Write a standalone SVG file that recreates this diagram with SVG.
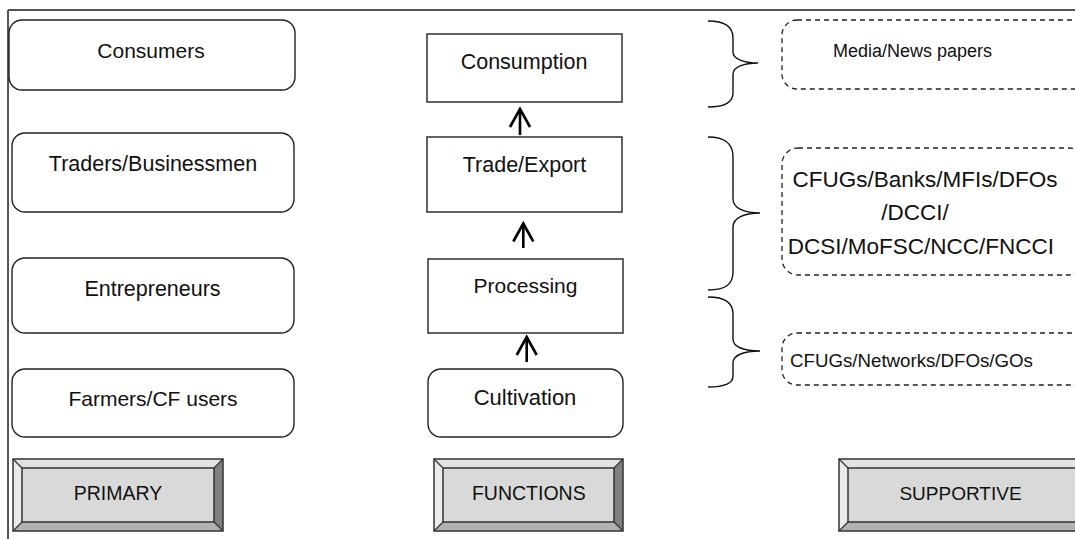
<svg xmlns="http://www.w3.org/2000/svg" width="1075" height="539" viewBox="0 0 1075 539">
  <style>
    .txt { font-family: "Liberation Sans", Arial, sans-serif; fill: #111; text-anchor: middle; }
    .box { fill: #fff; stroke: #222; stroke-width: 1.4; }
    .dash { fill: #fff; stroke: #222; stroke-width: 1.3; stroke-dasharray: 5 4; }
    .brace { fill: none; stroke: #111; stroke-width: 1.4; }
    .link { stroke: #000; stroke-width: 2.6; fill: none; }
    .outline { fill: none; stroke: #333; stroke-width: 1.5; }
    .face { fill: #d9d9d9; }
    .bt { fill: #e2e2e2; }
    .bl { fill: #ebebeb; }
    .br { fill: #808080; }
    .bb { fill: #b2b2b2; }
    .edge { stroke: #333; stroke-width: 1.2; }
  </style>
  <defs>
    <marker id="chev" markerUnits="userSpaceOnUse" markerWidth="40" markerHeight="40" refX="0" refY="0" orient="auto" overflow="visible">
      <path d="M-18,-10 L0,0 L-18,10" fill="none" stroke="#000" stroke-width="2.6" stroke-linejoin="miter"/>
    </marker>
    <!-- bevelled label button, 9px bevel -->
    <symbol id="bevel" overflow="visible"/>
  </defs>

  <!-- frame -->
  <g id="frame">
    <line x1="8" y1="10" x2="1075" y2="10" stroke="#555" stroke-width="2"/>
    <line x1="8" y1="10" x2="8" y2="539" stroke="#555" stroke-width="2"/>
  </g>

  <!-- primary actors -->
  <g id="consumers">
    <rect class="box" x="9" y="20" width="286" height="70" rx="13"/>
    <text class="txt" x="151" y="57.5" font-size="21">Consumers</text>
  </g>
  <g id="traders">
    <rect class="box" x="12" y="133" width="282" height="79" rx="13"/>
    <text class="txt" x="153" y="170.5" font-size="21.5">Traders/Businessmen</text>
  </g>
  <g id="entrepreneurs">
    <rect class="box" x="12" y="258" width="282" height="75" rx="13"/>
    <text class="txt" x="152.5" y="295.5" font-size="21.5">Entrepreneurs</text>
  </g>
  <g id="farmers">
    <rect class="box" x="12" y="369" width="282" height="68" rx="13"/>
    <text class="txt" x="153" y="405.5" font-size="21">Farmers/CF users</text>
  </g>

  <!-- functions -->
  <g id="consumption">
    <rect class="box" x="427" y="34" width="195" height="68"/>
    <text class="txt" x="524" y="68.5" font-size="21.5">Consumption</text>
  </g>
  <g id="trade">
    <rect class="box" x="427" y="137" width="195" height="75"/>
    <text class="txt" x="524.5" y="171.5" font-size="21.5">Trade/Export</text>
  </g>
  <g id="processing">
    <rect class="box" x="428" y="259" width="195" height="74"/>
    <text class="txt" x="525.5" y="292.5" font-size="21">Processing</text>
  </g>
  <g id="cultivation">
    <rect class="box" x="428" y="369" width="195" height="68" rx="13"/>
    <text class="txt" x="525" y="404.5" font-size="22">Cultivation</text>
  </g>

  <!-- connectors -->
  <g id="connectors">
    <line class="link" x1="520" y1="135" x2="520" y2="109" marker-end="url(#chev)"/>
    <line class="link" x1="523.3" y1="248" x2="523.3" y2="223.5" marker-end="url(#chev)"/>
    <line class="link" x1="526.7" y1="362" x2="526.7" y2="337" marker-end="url(#chev)"/>
  </g>

  <!-- braces -->
  <g id="braces">
    <path class="brace" d="M708,21 C726,21 733,27 733,38 L733,52 C733,59 744,63 758,63 C744,63 733,67 733,74 L733,93 C733,102 726,107 708,107"/>
    <path class="brace" d="M708,137 C726,137 733,144 733,157 L733,199 C733,208 744,213 760,213 C744,213 733,218 733,227 L733,272 C733,284 726,290 708,290"/>
    <path class="brace" d="M708,297 C726,297 733,303 733,314 L733,339 C733,347 744,351 760,351 C744,351 733,355 733,363 L733,376 C733,383 726,387 708,387"/>
  </g>

  <!-- supporting institutions -->
  <g id="media">
    <rect class="dash" x="782" y="20" width="320" height="69" rx="15"/>
    <text class="txt" x="912.5" y="57.3" font-size="18">Media/News papers</text>
  </g>
  <g id="finance">
    <rect class="dash" x="782" y="148" width="303" height="127" rx="16"/>
    <text class="txt" x="925" y="186.7" font-size="22.5">CFUGs/Banks/MFIs/DFOs</text>
    <text class="txt" x="915" y="220.3" font-size="22.5">/DCCI/</text>
    <text class="txt" x="921" y="253.7" font-size="22.5">DCSI/MoFSC/NCC/FNCCI</text>
  </g>
  <g id="networks">
    <rect class="dash" x="782" y="333" width="308" height="52" rx="15"/>
    <text class="txt" x="911.5" y="366.7" font-size="18.7">CFUGs/Networks/DFOs/GOs</text>
  </g>

  <!-- column headings -->
  <g id="primary">
    <rect class="face" x="13" y="459" width="210" height="72"/>
    <polygon class="bt" points="13,459 223,459 214,468 22,468"/>
    <polygon class="bl" points="13,459 22,468 22,522 13,531"/>
    <polygon class="br" points="223,459 223,531 214,522 214,468"/>
    <polygon class="bb" points="13,531 22,522 214,522 223,531"/>
    <rect class="outline" x="22" y="468" width="192" height="54"/>
    <line class="edge" x1="13" y1="459" x2="22" y2="468"/>
    <line class="edge" x1="223" y1="459" x2="214" y2="468"/>
    <line class="edge" x1="13" y1="531" x2="22" y2="522"/>
    <line class="edge" x1="223" y1="531" x2="214" y2="522"/>
    <rect class="outline" x="13" y="459" width="210" height="72"/>
    <text class="txt" x="118" y="500" font-size="19.5">PRIMARY</text>
  </g>
  <g id="functions">
    <rect class="face" x="434" y="459" width="189" height="72"/>
    <polygon class="bt" points="434,459 623,459 614,468 443,468"/>
    <polygon class="bl" points="434,459 443,468 443,522 434,531"/>
    <polygon class="br" points="623,459 623,531 614,522 614,468"/>
    <polygon class="bb" points="434,531 443,522 614,522 623,531"/>
    <rect class="outline" x="443" y="468" width="171" height="54"/>
    <line class="edge" x1="434" y1="459" x2="443" y2="468"/>
    <line class="edge" x1="623" y1="459" x2="614" y2="468"/>
    <line class="edge" x1="434" y1="531" x2="443" y2="522"/>
    <line class="edge" x1="623" y1="531" x2="614" y2="522"/>
    <rect class="outline" x="434" y="459" width="189" height="72"/>
    <text class="txt" x="528.8" y="500" font-size="19.5">FUNCTIONS</text>
  </g>
  <g id="supportive">
    <rect class="face" x="839" y="459" width="247" height="72"/>
    <polygon class="bt" points="839,459 1086,459 1077,468 848,468"/>
    <polygon class="bl" points="839,459 848,468 848,522 839,531"/>
    <polygon class="br" points="1086,459 1086,531 1077,522 1077,468"/>
    <polygon class="bb" points="839,531 848,522 1077,522 1086,531"/>
    <rect class="outline" x="848" y="468" width="229" height="54"/>
    <line class="edge" x1="839" y1="459" x2="848" y2="468"/>
    <line class="edge" x1="839" y1="531" x2="848" y2="522"/>
    <rect class="outline" x="839" y="459" width="247" height="72"/>
    <text class="txt" x="960.5" y="500" font-size="19">SUPPORTIVE</text>
  </g>
</svg>
